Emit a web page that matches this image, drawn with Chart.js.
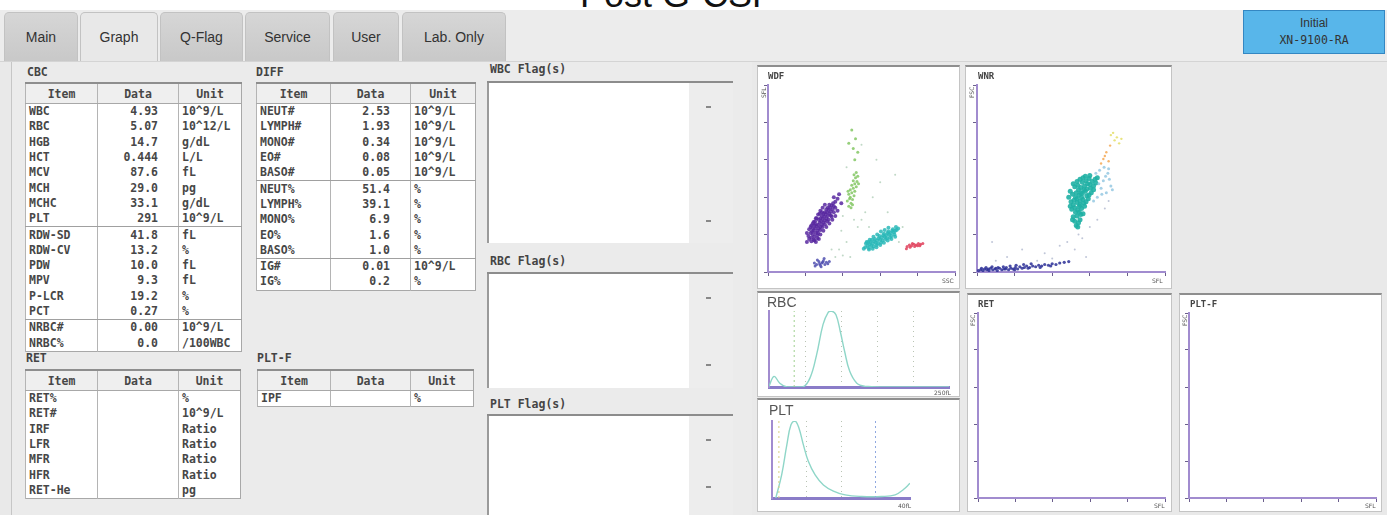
<!DOCTYPE html>
<html>
<head>
<meta charset="utf-8">
<script src="https://cdn.jsdelivr.net/npm/chart.js@4.4.0/dist/chart.umd.min.js"></script>
<style>
body{margin:0;width:1387px;height:515px;overflow:hidden;background:#fff;position:relative;font-family:"Liberation Sans",Arial,sans-serif}
.abs{position:absolute}
#titleclip{left:560px;top:0;width:260px;height:11px;overflow:hidden}
#titleclip span{position:absolute;left:20px;top:-26px;font-size:36px;color:#111;white-space:nowrap}
#header{left:0;top:10px;width:1387px;height:52px;background:#ececec}
.tab{position:absolute;top:12px;height:49px;background:linear-gradient(#d6d6d6,#c8c8c8);border:1px solid #c2c2c2;border-bottom:none;border-radius:5px 5px 0 0;font-size:14px;color:#333;text-align:center;line-height:48px}
.tab.on{background:#e8e8e8}
#initial{left:1243px;top:10px;width:142px;height:44px;background:#58b6ea;border:1px solid #3487c2;text-align:center;color:#333;font-size:12px;line-height:17px;padding-top:4px;box-sizing:border-box}
#initial .m{font-family:"DejaVu Sans Mono",monospace;font-size:11.5px}
#content{left:0;top:61px;width:1387px;height:454px;background:#e9e9e9;border-top:1px solid #d4d4d4}
#leftbox{left:11px;top:62px;width:740px;height:453px;border-left:1px solid #c6c6c6;background:#ebebeb}
.lbl{position:absolute;font-family:"DejaVu Sans Mono",monospace;font-size:11.5px;color:#444;font-weight:bold}
table.t{position:absolute;border-collapse:collapse;background:#fff;font-family:"DejaVu Sans Mono",monospace;font-size:11.5px;color:#474747;font-weight:bold;table-layout:fixed;border:1px solid #a8a8a8;border-top:2px solid #8e8e8e}
table.t th{height:19px;background:#efefef;font-weight:bold;border-bottom:1px solid #a8a8a8;border-left:1px solid #b4b4b4;padding:0;text-align:center}
table.t td{height:15.3px;padding:0 0 0 3px;line-height:15px;border-left:1px solid #b4b4b4;white-space:nowrap;overflow:hidden}
table.t td.d{text-align:right;padding:0 20px 0 0}
table.t tr.sep td{border-bottom:1px solid #a0a0a0}
.flagline{position:absolute;left:487px;width:246px;height:2px;background:#8c8c8c}
.flagbox{position:absolute;left:487px;width:200px;background:#fff;border-left:2px solid #9a9a9a}
.flagside{position:absolute;left:689px;width:44px;background:#ededed}
.mark{position:absolute;width:5px;height:2px;background:#888}
.panel{position:absolute;background:#fff;border:1px solid #c4c4c4;border-top:2px solid #8e8e8e;box-sizing:border-box}
canvas{position:absolute}
.ptitle{position:absolute;font-family:"DejaVu Sans Mono",monospace;font-size:9px;color:#444;font-weight:bold}
.htitle{position:absolute;font-family:"Liberation Sans",Arial,sans-serif;font-size:14px;color:#555}
.tiny{position:absolute;font-family:"DejaVu Sans",sans-serif;font-size:6px;color:#555}
.rot{transform:rotate(-90deg);transform-origin:left top}
</style>
</head>
<body>
<div id="titleclip" class="abs"><span>Post G-CSF</span></div>
<div id="header" class="abs"></div>
<div class="tab" style="left:4px;width:72px">Main</div>
<div class="tab on" style="left:80px;width:76px">Graph</div>
<div class="tab" style="left:160px;width:81px">Q-Flag</div>
<div class="tab" style="left:245px;width:83px">Service</div>
<div class="tab" style="left:333px;width:64px">User</div>
<div class="tab" style="left:402px;width:102px">Lab. Only</div>
<div id="initial" class="abs">Initial<br><span class="m">XN-9100-RA</span></div>
<div id="content" class="abs"></div>
<div id="leftbox" class="abs"></div>

<div class="lbl" style="left:27px;top:65px">CBC</div>
<div class="lbl" style="left:256px;top:65px">DIFF</div>
<div class="lbl" style="left:26px;top:351px">RET</div>
<div class="lbl" style="left:257px;top:351px">PLT-F</div>

<table class="t" id="tCBC" style="left:25px;top:82px;width:216px"></table>
<table class="t" id="tDIFF" style="left:256px;top:82px;width:219px"></table>
<table class="t" id="tRET" style="left:25px;top:369px;width:215px"></table>
<table class="t" id="tPLTF" style="left:257px;top:369px;width:216px"></table>

<div class="lbl" style="left:490px;top:62px">WBC Flag(s)</div>
<div class="flagline" style="top:81px"></div>
<div class="flagbox" style="top:83px;height:160px"></div>
<div class="flagside" style="top:83px;height:160px"></div>
<div class="mark" style="left:706px;top:106px"></div>
<div class="mark" style="left:706px;top:220px"></div>
<div class="lbl" style="left:490px;top:254px">RBC Flag(s)</div>
<div class="flagline" style="top:272px"></div>
<div class="flagbox" style="top:274px;height:114px"></div>
<div class="flagside" style="top:274px;height:114px"></div>
<div class="mark" style="left:706px;top:297px"></div>
<div class="mark" style="left:706px;top:364px"></div>
<div class="lbl" style="left:490px;top:397px">PLT Flag(s)</div>
<div class="flagline" style="top:414px"></div>
<div class="flagbox" style="top:416px;height:99px"></div>
<div class="flagside" style="top:416px;height:99px"></div>
<div class="mark" style="left:706px;top:439px"></div>
<div class="mark" style="left:706px;top:486px"></div>

<div class="panel" style="left:757px;top:65px;width:203px;height:224px"></div>
<div class="panel" style="left:965px;top:65px;width:207px;height:224px"></div>
<div class="panel" style="left:757px;top:291px;width:203px;height:106px"></div>
<div class="panel" style="left:757px;top:398px;width:203px;height:114px"></div>
<div class="panel" style="left:967px;top:293px;width:205px;height:219px"></div>
<div class="panel" style="left:1179px;top:293px;width:203px;height:219px"></div>

<canvas id="cWDF" width="203" height="224" style="left:757px;top:65px"></canvas>
<canvas id="cWNR" width="207" height="224" style="left:965px;top:65px"></canvas>
<canvas id="cRBC" width="203" height="106" style="left:757px;top:291px"></canvas>
<canvas id="cPLT" width="203" height="114" style="left:757px;top:398px"></canvas>
<canvas id="cRET" width="205" height="219" style="left:967px;top:293px"></canvas>
<canvas id="cPLTF" width="203" height="219" style="left:1179px;top:293px"></canvas>

<div class="ptitle" style="left:768px;top:71px">WDF</div>
<div class="ptitle" style="left:978px;top:71px">WNR</div>
<div class="htitle" style="left:767px;top:294px">RBC</div>
<div class="htitle" style="left:769px;top:402px">PLT</div>
<div class="ptitle" style="left:978px;top:299px">RET</div>
<div class="ptitle" style="left:1190px;top:299px">PLT-F</div>
<div class="tiny rot" style="left:760px;top:98px">SFL</div>
<div class="tiny" style="left:942px;top:277px">SSC</div>
<div class="tiny rot" style="left:968px;top:98px">FSC</div>
<div class="tiny" style="left:1152px;top:277px">SFL</div>
<div class="tiny" style="left:934px;top:389px">250fL</div>
<div class="tiny" style="left:898px;top:502px">40fL</div>
<div class="tiny rot" style="left:969px;top:326px">FSC</div>
<div class="tiny" style="left:1154px;top:502px">SFL</div>
<div class="tiny rot" style="left:1181px;top:326px">FSC</div>
<div class="tiny" style="left:1365px;top:502px">SFL</div>

<script>
// ---- table values ----
const cbcItems = ['WBC','RBC','HGB','HCT','MCV','MCH','MCHC','PLT','RDW-SD','RDW-CV','PDW','MPV','P-LCR','PCT','NRBC#','NRBC%'];
const cbcData  = ['4.93','5.07','14.7','0.444','87.6','29.0','33.1','291','41.8','13.2','10.0','9.3','19.2','0.27','0.00','0.0'];
const cbcUnits = ['10^9/L','10^12/L','g/dL','L/L','fL','pg','g/dL','10^9/L','fL','%','fL','fL','%','%','10^9/L','/100WBC'];
const diffItems = ['NEUT#','LYMPH#','MONO#','EO#','BASO#','NEUT%','LYMPH%','MONO%','EO%','BASO%','IG#','IG%'];
const diffData  = ['2.53','1.93','0.34','0.08','0.05','51.4','39.1','6.9','1.6','1.0','0.01','0.2'];
const diffUnits = ['10^9/L','10^9/L','10^9/L','10^9/L','10^9/L','%','%','%','%','%','10^9/L','%'];
const retItems = ['RET%','RET#','IRF','LFR','MFR','HFR','RET-He'];
const retData  = ['','','','','','',''];
const retUnits = ['%','10^9/L','Ratio','Ratio','Ratio','Ratio','pg'];
const pltfItems = ['IPF'];
const pltfData  = [''];
const pltfUnits = ['%'];

function makeTable(id, items, data, units, seps, cols) {
  const t = document.getElementById(id);
  let h = '<colgroup>' + cols.map(w => '<col style="width:' + w + 'px">').join('') + '</colgroup>';
  h += '<tr><th>Item</th><th>Data</th><th>Unit</th></tr>';
  items.forEach((it, i) => {
    h += '<tr' + (seps.includes(i) ? ' class="sep"' : '') + '><td>' + it + '</td><td class="d">' + data[i] + '</td><td>' + units[i] + '</td></tr>';
  });
  t.innerHTML = h;
}
makeTable('tCBC', cbcItems, cbcData, cbcUnits, [7, 13], [72, 81, 63]);
makeTable('tDIFF', diffItems, diffData, diffUnits, [4, 9], [74, 80, 65]);
makeTable('tRET', retItems, retData, retUnits, [], [72, 81, 62]);
makeTable('tPLTF', pltfItems, pltfData, pltfUnits, [], [73, 80, 63]);

// ---- WDF scatter (SSC, SFL) ----
const wdfLymph = [[58,46],[60,50],[62,47],[57,52],[61,55],[64,52],[63,58],[66,55],[60,58],[65,61],[68,58],[67,63],[70,60],[64,64],[69,66],[72,63],[71,68],[74,66],[68,70],[73,71],[76,69],[75,74],[78,72],[72,75],[77,77],[80,75],[79,80],[82,78],[76,80],[81,83],[84,81],[83,86],[86,84],[80,86],[85,89],[88,88],[87,92],[90,94],[62,62],[66,49],[59,54],[70,72],[74,78],[78,84],[84,76],[67,52],[73,60],[63,68],[79,68],[82,90],[55,44],[58,41],[61,43],[90,86],[93,98],[70,56],[76,64],[65,72],[52,40],[95,104],[88,100],[98,92],
  [52,52],[55,57],[58,62],[61,67],[64,72],[67,77],[70,82],[73,86],[76,90],[62,42],[66,45],[70,50],[74,55],[78,60],[82,65],[86,70],[90,75],[93,82],[54,48],[57,60],[60,65],[69,78],[72,80],[81,70],[85,74],[88,80],[68,44],[64,40]];
const wdfMono = [[108,88],[111,92],[106,95],[113,97],[110,100],[115,102],[108,104],[112,106],[116,108],[110,110],[114,112],[118,114],[112,116],[116,118],[119,121],[114,122],[117,126],[120,128],[115,130],[118,133],[109,98],[113,90],[121,118],[107,108],[111,86],[116,150],[114,165],[117,178],[112,190],[120,160],[108,172]];
const wdfNeut = [[130,33],[133,35],[131,38],[135,32],[136,37],[138,35],[137,40],[140,38],[141,34],[142,41],[144,39],[143,44],[146,42],[147,38],[148,45],[150,43],[149,48],[152,46],[153,42],[154,49],[156,47],[155,51],[158,49],[159,45],[160,52],[162,50],[161,54],[164,52],[165,48],[166,55],[168,53],[167,57],[170,55],[172,56],[169,50],[145,36],[151,39],[157,44],[163,46],[139,43],[134,40],[128,31],[174,58],[171,60],
  [132,40],[136,43],[141,47],[146,50],[151,54],[156,56],[161,59],[135,30],[140,31],[145,33],[150,36],[155,39],[160,42],[165,44],[170,47]];
const wdfEo = [[186,34],[189,36],[192,35],[195,37],[198,36],[201,38],[204,37],[207,38],[190,33],[196,34],[200,35],[185,31],[193,38],[203,35]];
const wdfDebris = [[62,12],[65,10],[68,14],[70,9],[72,12],[74,15],[76,10],[78,13],[80,11],[66,16],[71,7],[75,18],[82,14],[63,8],[69,11],[73,13]];
const wdfOther = [[95,30],[100,22],[105,40],[120,60],[125,70],[98,55],[130,80],[140,100],[150,120],[135,60],[110,20],[90,20],[85,30],[160,80],[145,150],[125,170],[170,130],[105,140],[115,70],[175,40],[180,60],[100,75]];

// ---- WNR scatter (SFL, FSC) ----
const wnrWbc = [[132,62],[135,66],[130,68],[137,70],[128,74],[133,75],[138,77],[131,80],[136,80],[141,78],[126,84],[130,86],[134,83],[139,85],[143,88],[128,90],[137,90],[125,94],[129,96],[133,93],[137,95],[141,97],[145,94],[131,100],[139,100],[148,98],[127,104],[132,106],[136,103],[140,105],[144,108],[149,103],[135,110],[142,110],[152,106],[130,114],[134,116],[138,113],[143,115],[147,118],[151,112],[140,120],[155,115],[146,111],[137,124],[141,126],[145,122],[149,125],[153,121],[157,124],[150,129],[160,126],
  [127,70],[134,60],[124,88],[122,100],[124,108],[128,118],[133,121],[146,102],[150,117],[155,110],[158,119],[144,128],[136,88],[142,92],[133,98],[138,106]];
const wnrTail = [[162,118],[165,112],[168,122],[171,128],[174,132],[176,124],[178,115],[172,106],[180,110],[166,104],[158,132],[163,136],[169,140],[175,138],[155,95],[160,100]];
const wnrBaso = [[172,160],[168,151],[177,169],[165,145],[170,155],[175,148]];
const wnrHigh = [[183,176],[189,172],[178,183],[186,180],[192,178],[181,186]];
const wnrRbc = [[2,2],[5,3],[8,2],[10,4],[13,3],[16,2],[18,5],[21,3],[24,4],[27,2],[30,5],[33,3],[36,4],[39,6],[42,3],[45,5],[48,4],[51,6],[54,4],[57,7],[60,5],[63,6],[66,8],[70,6],[74,8],[78,7],[82,9],[86,8],[90,10],[95,9],[100,11],[105,10],[110,12],[116,13],[122,14],[6,5],[12,6],[20,7],[28,6],[35,7],[44,8],[52,9],[62,10],[72,11],[15,4],[25,5],[38,4],[50,3],[68,5],[84,6],[98,8]];
const wnrOther = [[40,20],[60,30],[90,25],[110,35],[120,40],[100,18],[130,30],[140,45],[150,60],[160,70],[170,85],[25,15],[80,15],[135,50],[145,20],[175,95],[20,40]];

// ---- histograms ----
const rbcSize  = [0,7,15,25,47,57,66,75,82,87,93,99,105,112,122,133,160,200,250];
const rbcCount = [1,14,5,0,0,12,42,82,98,100,95,73,47,21,5,1,0,0,0];
const pltSize  = [1.1,2.8,4.3,5.5,6.7,7.8,9.1,10.5,12.5,14.9,17.8,21.2,26,31.8,35.7,38.1,40];
const pltCount = [0,30,69,95,100,91,69,48,30,17,9,4,2,2,4,11,19];

const AXIS = '#a18ccf';
const TICK = '#6b5f8c';
const pts = arr => arr.map(p => ({x: p[0], y: p[1]}));

function dots(arr, color, r) {
  return {data: pts(arr), backgroundColor: color, borderWidth: 0, pointRadius: r || 1.5, pointHoverRadius: 0};
}

function scatterOpts(pad) {
  const ax = {
    type: 'linear', min: 0, max: 250,
    ticks: {display: false, stepSize: 50},
    grid: {drawOnChartArea: false, drawTicks: true, tickLength: 4, color: TICK, tickColor: TICK},
    border: {color: AXIS, width: 2}
  };
  return {
    responsive: false, animation: false, events: [],
    layout: {padding: pad, autoPadding: false},
    plugins: {legend: {display: false}, tooltip: {enabled: false}},
    scales: {x: ax, y: Object.assign({}, ax)}
  };
}

new Chart(document.getElementById('cWDF'), {
  type: 'scatter',
  data: {datasets: [
    dots(wdfOther, 'rgba(150,190,160,0.6)', 1),
    dots(wdfDebris, 'rgba(80,80,176,0.85)'),
    dots(wdfLymph, 'rgba(88,40,160,0.85)', 2),
    dots(wdfMono, 'rgba(124,195,90,0.8)'),
    dots(wdfNeut, 'rgba(42,184,184,0.85)', 2),
    dots(wdfEo, 'rgba(224,64,90,0.85)')
  ]},
  options: scatterOpts({left: 7, right: 5, top: 20, bottom: 13})
});

new Chart(document.getElementById('cWNR'), {
  type: 'scatter',
  data: {datasets: [
    dots(wnrOther, 'rgba(150,160,190,0.6)', 1),
    dots(wnrRbc, 'rgba(43,47,150,0.85)', 1.6),
    dots(wnrTail, 'rgba(142,196,224,0.8)'),
    dots(wnrWbc, 'rgba(31,176,164,0.9)', 2.5),
    dots(wnrBaso, 'rgba(242,162,74,0.8)', 1.2),
    dots(wnrHigh, 'rgba(230,224,112,0.9)', 1.2)
  ]},
  options: scatterOpts({left: 8, right: 7, top: 20, bottom: 13})
});

new Chart(document.getElementById('cRET'), {
  type: 'scatter', data: {datasets: [{data: []}]},
  options: scatterOpts({left: 7, right: 7, top: 20, bottom: 10})
});
new Chart(document.getElementById('cPLTF'), {
  type: 'scatter', data: {datasets: [{data: []}]},
  options: scatterOpts({left: 6, right: 6, top: 20, bottom: 10})
});

function histOpts(pad, xmax, step) {
  return {
    responsive: false, animation: false, events: [],
    layout: {padding: pad, autoPadding: false},
    plugins: {legend: {display: false}, tooltip: {enabled: false}},
    scales: {
      x: {type: 'linear', min: 0, max: xmax,
          ticks: {display: false, stepSize: step},
          grid: {drawOnChartArea: true, drawTicks: false, tickLength: 0, lineWidth: 1,
                 color: c => (c.tick && c.tick.value > 0 && c.tick.value < xmax) ? '#b9c4b4' : 'rgba(0,0,0,0)'},
          border: {color: '#8a7cc8', width: 3, dash: [1, 4]}},
      y: {min: 0, max: 100,
          ticks: {display: false},
          grid: {display: false, drawTicks: false, tickLength: 0},
          border: {color: AXIS, width: 2}}
    }
  };
}

function curve(xs, ys) {
  return {type: 'line', data: xs.map((x, i) => ({x: x, y: ys[i]})), borderColor: '#8fd6c8', borderWidth: 1.4, pointRadius: 0, tension: 0.4, fill: false};
}
function disc(x, color) {
  return {type: 'line', data: [{x: x, y: 0}, {x: x, y: 100}], borderColor: color, borderWidth: 1, borderDash: [2, 3], pointRadius: 0};
}

new Chart(document.getElementById('cRBC'), {
  type: 'line',
  data: {datasets: [disc(35, '#9fd08e'), curve(rbcSize, rbcCount)]},
  options: histOpts({left: 12, right: 11, top: 20, bottom: 10}, 250, 50)
});
new Chart(document.getElementById('cPLT'), {
  type: 'line',
  data: {datasets: [disc(2, '#d8d080'), disc(30, '#8fa8e0'), curve(pltSize, pltCount)]},
  options: histOpts({left: 15, right: 50, top: 23, bottom: 14}, 40, 10)
});
</script>
</body>
</html>
